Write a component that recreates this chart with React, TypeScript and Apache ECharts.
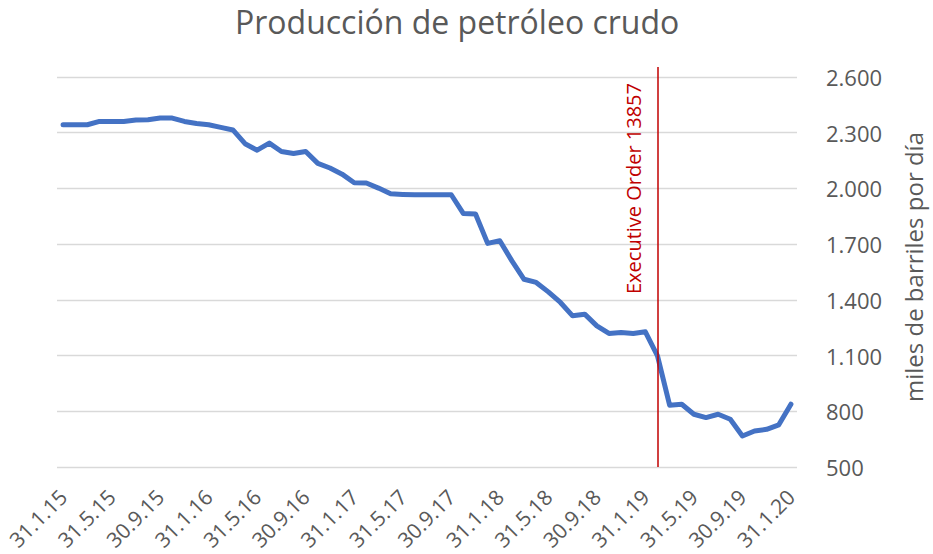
import React, { useEffect, useRef } from "react";
import * as echarts from "echarts";

const categories: string[] = [
  "31.1.15", "28.2.15", "31.3.15", "30.4.15", "31.5.15", "30.6.15", "31.7.15", "31.8.15", "30.9.15", "31.10.15", "30.11.15", "31.12.15",
  "31.1.16", "29.2.16", "31.3.16", "30.4.16", "31.5.16", "30.6.16", "31.7.16", "31.8.16", "30.9.16", "31.10.16", "30.11.16", "31.12.16",
  "31.1.17", "28.2.17", "31.3.17", "30.4.17", "31.5.17", "30.6.17", "31.7.17", "31.8.17", "30.9.17", "31.10.17", "30.11.17", "31.12.17",
  "31.1.18", "28.2.18", "31.3.18", "30.4.18", "31.5.18", "30.6.18", "31.7.18", "31.8.18", "30.9.18", "31.10.18", "30.11.18", "31.12.18",
  "31.1.19", "28.2.19", "31.3.19", "30.4.19", "31.5.19", "30.6.19", "31.7.19", "31.8.19", "30.9.19", "31.10.19", "30.11.19", "31.12.19",
  "31.1.20",
];

const production: number[] = [
  2343, 2343, 2343, 2361, 2361, 2361, 2368, 2370, 2379, 2379, 2361, 2350,
  2343, 2329, 2315, 2241, 2206, 2244, 2199, 2188, 2199, 2135, 2110, 2077,
  2031, 2029, 2002, 1971, 1968, 1966, 1966, 1966, 1966, 1865, 1862, 1704,
  1718, 1610, 1511, 1494, 1443, 1386, 1314, 1323, 1260, 1219, 1224, 1219,
  1228, 1098, 833, 838, 784, 766, 784, 757, 667, 694, 703, 727,
  838,
];

const yTicks = { min: 500, max: 2600, interval: 300 };
const eventCategory = "28.2.19";
const eventLabel = "Executive Order 13857";
const eventLineTop = 2654;

const titleText = "Producción de petróleo crudo";
const yAxisName = "miles de barriles por día";

const FONT = "'Open Sans', sans-serif";
const GREY = "#595959";

function fmt(v: number): string {
  return String(Math.round(v)).replace(/\B(?=(\d{3})+(?!\d))/g, ".");
}

const isTick = (v: number) => v <= yTicks.max && (v - yTicks.min) % yTicks.interval === 0;

export default function App() {
  const ref = useRef<HTMLDivElement>(null);
  useEffect(() => {
    if (!ref.current) return;
    const chart = echarts.init(ref.current, undefined, { renderer: "svg" });
    const nLines = (yTicks.max - yTicks.min) / yTicks.interval + 1;
    const gridColors: string[] = [];
    for (let i = 0; i < nLines; i++) gridColors.push("#D9D9D9");
    gridColors.push("rgba(0,0,0,0)");
    chart.setOption({
      animation: false,
      textStyle: { fontFamily: FONT },
      title: {
        text: titleText,
        left: 230,
        top: 0,
        textStyle: { fontFamily: FONT, fontSize: 32, fontWeight: "normal", color: GREY },
      },
      grid: { left: 57, top: 67, width: 744, height: 400, containLabel: false },
      xAxis: {
        type: "category",
        data: categories,
        boundaryGap: true,
        axisLine: { show: false },
        axisTick: { show: false },
        axisLabel: {
          interval: 3,
          rotate: 45,
          fontSize: 21,
          color: GREY,
          margin: 26,
          fontFamily: FONT,
        },
      },
      yAxis: {
        type: "value",
        position: "right",
        min: yTicks.min,
        max: eventLineTop,
        interval: yTicks.interval,
        axisLine: { show: false },
        axisTick: { show: false },
        splitLine: { lineStyle: { color: gridColors, width: 1.3 } },
        axisLabel: {
          fontSize: 22,
          color: GREY,
          margin: 29,
          fontFamily: FONT,
          showMaxLabel: false,
          formatter: (v: number) => (isTick(v) ? fmt(v) : ""),
        },
        name: yAxisName,
        nameLocation: "middle",
        nameRotate: 90,
        nameGap: 104,
        nameTextStyle: { fontSize: 24, color: GREY, fontFamily: FONT, padding: [0, 0, 0, 0] },
      },
      series: [
        {
          type: "line",
          data: production,
          symbol: "none",
          showSymbol: false,
          lineStyle: { color: "#4472C4", width: 5, cap: "round", join: "round" },
          itemStyle: { color: "#4472C4" },
          z: 3,
          markLine: {
            silent: true,
            symbol: ["none", "none"],
            lineStyle: { color: "#C00000", width: 1.5, type: "solid" },
            label: {
              show: true,
              position: "insideEndTop",
              formatter: eventLabel,
              color: "#C00000",
              fontSize: 20,
              fontFamily: FONT,
              distance: [16, 14],
            },
            data: [[{ coord: [eventCategory, yTicks.min] }, { coord: [eventCategory, eventLineTop] }]],
          },
        },
      ],
    });
    return () => chart.dispose();
  }, []);
  return (
    <div
      ref={ref}
      style={{ position: "absolute", left: 0, top: 0, width: 933, height: 554, background: "#fff" }}
    />
  );
}
